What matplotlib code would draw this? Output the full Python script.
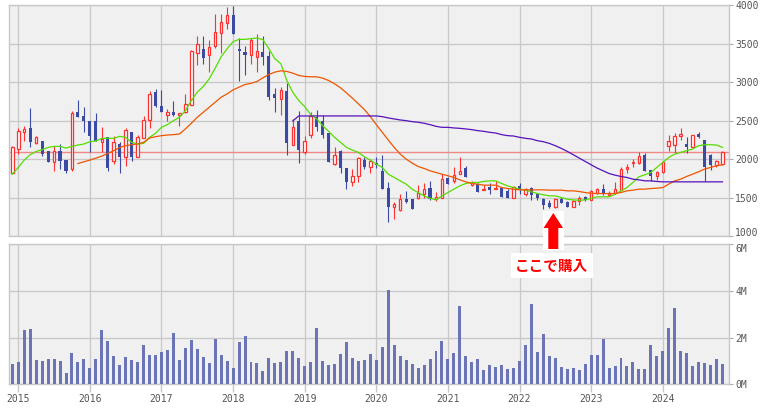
import numpy as np
import matplotlib
matplotlib.use('Agg')
import matplotlib.pyplot as plt
from matplotlib.patches import Rectangle, FancyArrow

# monthly candles, Dec 2014 .. Nov 2024
opens = [1813, 2126, 2352, 2400, 2204, 2239, 2100, 1957, 2100, 1991, 1870, 2618,
         2566, 2500, 2500, 2218, 2283, 1970, 2196, 2022, 2357, 2022, 2274, 2513,
         2879, 2692, 2574, 2613, 2570, 2609, 2705, 3379, 3436, 3353, 3475, 3645,
         3775, 3875, 3436, 3392, 3349, 3331, 3392, 3336, 2848, 2783, 2892, 2183,
         2500, 2096, 2313, 2544, 2492, 2339, 1935, 2109, 1883, 1696, 1783, 1987,
         1891, 1943, 1848, 1622, 1383, 1339, 1478, 1478, 1491, 1543, 1622, 1478,
         1500, 1748, 1717, 1804, 1878, 1661, 1674, 1600, 1639, 1609, 1630, 1587,
         1500, 1652, 1552, 1622, 1543, 1487, 1435, 1383, 1478, 1443, 1383, 1456,
         1509, 1469, 1565, 1609, 1535, 1565, 1596, 1870, 1952, 1948, 2052, 1857,
         1783, 1826, 2174, 2187, 2305, 2196, 2161, 2326, 2248, 2052, 1926, 1935]
closes = [2161, 2370, 2396, 2218, 2283, 2065, 1957, 2100, 1970, 1848, 2605, 2544,
          2500, 2305, 2239, 2261, 1878, 2218, 2022, 2383, 2022, 2283, 2509, 2848,
          2696, 2609, 2618, 2579, 2605, 2718, 3401, 3501, 3318, 3462, 3658, 3788,
          3875, 3631, 3405, 3349, 3544, 3401, 3331, 2813, 2792, 2900, 2204, 2422,
          2122, 2239, 2566, 2422, 2313, 1957, 2052, 1878, 1704, 1783, 2013, 1891,
          1978, 1926, 1617, 1383, 1422, 1478, 1443, 1356, 1556, 1609, 1478, 1509,
          1739, 1674, 1796, 1848, 1761, 1683, 1574, 1617, 1600, 1630, 1509, 1500,
          1639, 1609, 1609, 1530, 1500, 1404, 1383, 1478, 1435, 1383, 1456, 1491,
          1465, 1587, 1609, 1543, 1565, 1617, 1870, 1891, 1965, 2043, 1848, 1783,
          1835, 1965, 2239, 2305, 2326, 2152, 2313, 2283, 1900, 1922, 1970, 2087]
highs = [2174, 2400, 2435, 2661, 2305, 2239, 2109, 2165, 2196, 1991, 2631, 2774,
         2683, 2500, 2605, 2413, 2283, 2305, 2218, 2400, 2357, 2313, 2566, 2892,
         2914, 2905, 2653, 2761, 2605, 2848, 3414, 3605, 3597, 3544, 3884, 3884,
         3984, 3997, 3581, 3471, 3579, 3623, 3597, 3401, 2922, 2944, 2987, 2522,
         2631, 2305, 2609, 2644, 2574, 2339, 2161, 2117, 1883, 1870, 2030, 2030,
         2000, 2022, 2057, 1704, 1443, 1552, 1587, 1478, 1661, 1683, 1717, 1574,
         1804, 1761, 1891, 2030, 1904, 1717, 1687, 1661, 1683, 1717, 1630, 1617,
         1652, 1683, 1630, 1639, 1552, 1500, 1465, 1500, 1509, 1456, 1465, 1522,
         1522, 1600, 1622, 1674, 1587, 1704, 1891, 1935, 2000, 2087, 2074, 1857,
         1848, 1978, 2318, 2339, 2400, 2283, 2313, 2357, 2248, 2065, 1987, 2109]
lows = [1804, 2065, 2239, 2152, 2196, 2043, 1957, 1848, 1870, 1813, 1848, 2544,
        2348, 2087, 2231, 2087, 1839, 1935, 1813, 1913, 1978, 2022, 2274, 2405,
        2674, 2609, 2500, 2566, 2426, 2596, 2705, 3227, 3231, 3131, 3449, 3379,
        3688, 3631, 3014, 3092, 3231, 3131, 3227, 2770, 2618, 2574, 2057, 2183,
        1943, 2065, 2270, 2370, 2270, 1957, 1922, 1817, 1609, 1644, 1696, 1870,
        1813, 1878, 1617, 1187, 1226, 1326, 1435, 1356, 1478, 1500, 1469, 1456,
        1500, 1674, 1683, 1804, 1761, 1652, 1574, 1600, 1543, 1609, 1509, 1500,
        1500, 1552, 1522, 1465, 1465, 1348, 1361, 1370, 1435, 1383, 1383, 1400,
        1456, 1465, 1552, 1530, 1522, 1552, 1596, 1813, 1891, 1935, 1839, 1717,
        1730, 1813, 2100, 2074, 2248, 2074, 2152, 2270, 1717, 1857, 1891, 1926]
# volume in millions of shares
volumes = [0.87, 0.95, 2.32, 2.36, 1.04, 1.00, 1.08, 1.08, 1.00, 0.48, 1.34, 0.95,
           1.08, 0.70, 1.08, 2.32, 1.85, 1.21, 0.83, 1.17, 1.04, 0.95, 1.68, 1.25,
           1.25, 1.38, 1.47, 2.19, 1.04, 1.55, 1.89, 1.51, 1.17, 0.91, 1.93, 1.25,
           1.00, 0.70, 1.81, 2.06, 0.95, 0.91, 0.57, 1.12, 0.91, 0.95, 1.42, 1.42,
           1.12, 0.78, 0.95, 2.40, 1.00, 0.83, 0.87, 1.29, 1.81, 1.12, 1.00, 1.04,
           1.29, 1.04, 1.59, 4.03, 1.68, 1.21, 1.04, 0.87, 0.70, 0.83, 1.08, 1.42,
           1.85, 1.08, 1.34, 3.34, 1.21, 0.95, 1.08, 0.61, 0.83, 0.74, 0.83, 0.65,
           0.70, 1.00, 1.68, 3.43, 1.38, 2.15, 1.21, 1.12, 0.74, 0.65, 0.70, 0.61,
           0.87, 1.25, 1.25, 1.93, 0.70, 0.78, 1.12, 0.78, 0.95, 0.65, 0.65, 1.68,
           1.21, 1.42, 2.40, 3.26, 1.42, 1.34, 0.78, 0.95, 0.91, 0.83, 1.08, 0.87]

nan = np.nan
ma_short = [1804, 1891, 1987, 2057, 2100, 2122, 2152, 2165, 2165, 2144, 2165, 2183,
            2196, 2226, 2235, 2270, 2270, 2270, 2296, 2283, 2218, 2196, 2204, 2283,
            2335, 2413, 2448, 2500, 2544, 2631, 2761, 2870, 2944, 3044, 3183, 3331,
            3436, 3527, 3557, 3557, 3566, 3575, 3553, 3436, 3305, 3240, 3022, 2870,
            2761, 2683, 2579, 2522, 2435, 2361, 2283, 2218, 2152, 2117, 2087, 2030,
            1987, 1935, 1891, 1804, 1761, 1717, 1674, 1609, 1565, 1522, 1491, 1469,
            1522, 1565, 1609, 1652, 1683, 1696, 1696, 1709, 1717, 1717, 1683, 1652,
            1630, 1609, 1596, 1574, 1552, 1535, 1522, 1522, 1500, 1478, 1469, 1465,
            1469, 1491, 1509, 1509, 1509, 1543, 1587, 1630, 1696, 1770, 1796, 1826,
            1891, 1957, 2022, 2065, 2087, 2109, 2131, 2174, 2187, 2187, 2183, 2152]
ma_mid = [nan] * 11 + [
            1943, 1965, 1987, 2013, 2039, 2074, 2109, 2152, 2174, 2187, 2196, 2218,
            2274, 2291, 2305, 2313, 2318, 2326, 2392, 2466, 2544, 2609, 2674, 2740,
            2805, 2848, 2900, 2935, 2970, 2985, 3009, 3057, 3101, 3131, 3148, 3140,
            3118, 3088, 3075, 3070, 3070, 3053, 3022, 2979, 2927, 2861, 2792, 2718,
            2644, 2552, 2448, 2348, 2248, 2152, 2065, 2000, 1948, 1904, 1878, 1848,
            1826, 1804, 1783, 1761, 1730, 1704, 1683, 1674, 1661, 1661, 1661, 1630,
            1617, 1609, 1600, 1600, 1600, 1600, 1600, 1596, 1596, 1596, 1587, 1587,
            1578, 1565, 1556, 1552, 1552, 1552, 1552, 1565, 1587, 1596, 1609, 1609,
            1617, 1622, 1630, 1674, 1717, 1739, 1774, 1804, 1835, 1870, 1891, 1913,
            1926]
ma_long = [nan] * 47 + [
            2496, 2561, 2561, 2561, 2561, 2561, 2561, 2561, 2561, 2561, 2561, 2561,
            2561, 2561, 2561, 2552, 2535, 2522, 2509, 2500, 2487, 2479, 2466, 2448,
            2426, 2413, 2413, 2405, 2400, 2392, 2383, 2370, 2361, 2348, 2339, 2318,
            2305, 2300, 2283, 2270, 2261, 2239, 2226, 2204, 2174, 2139, 2100, 2057,
            2013, 1970, 1926, 1883, 1848, 1813, 1791, 1774, 1761, 1739, 1730, 1717,
            1717, 1709, 1704, 1704, 1704, 1704, 1704, 1704, 1704, 1704, 1704, 1704,
            1704]

year_labels = ['2015', '2016', '2017', '2018', '2019', '2020', '2021', '2022', '2023', '2024']
year_pos = [1 + 12 * k for k in range(len(year_labels))]   # January of each year
price_ticks = [1000, 1500, 2000, 2500, 3000, 3500, 4000]
vol_ticks = [0, 2, 4, 6]

RED = '#ff3030'
BLUE = '#3b4aa3'
VOLC = '#6b74b4'
GRID = '#c8c8c8'
BG = '#f0f0f0'
TXT = '#555555'
MONO = 'DejaVu Sans Mono'

o = np.array(opens, float)
c = np.array(closes, float)
h = np.array(highs, float)
l = np.array(lows, float)
x = np.arange(len(c))
up = c >= o

fig = plt.figure(figsize=(7.64, 4.08), dpi=100)
fig.patch.set_facecolor('white')
ax = fig.add_axes([0.0122, 0.4216, 0.9420, 0.5654])
axv = fig.add_axes([0.0122, 0.0581, 0.9420, 0.3431])

for a in (ax, axv):
    a.set_facecolor(BG)
    a.set_xlim(-0.5, 120.1)
    for s in a.spines.values():
        s.set_color(GRID)
        s.set_linewidth(1)
    a.yaxis.tick_right()
    a.tick_params(axis='y', direction='out', length=3, width=0.8, color='#aaaaaa',
                  pad=1.5, labelsize=7, labelcolor=TXT)
    a.set_xticks(year_pos)
    a.grid(True, color=GRID, lw=0.9, zorder=0)
    a.set_axisbelow(True)

# price panel
ax.set_ylim(1000, 4000)
ax.set_yticks(price_ticks)
ax.set_yticklabels([str(v) for v in price_ticks], family=MONO)
ax.tick_params(axis='x', length=0, labelbottom=False)

ax.vlines(x, l, h, colors=np.where(up, RED, BLUE), lw=0.8, zorder=3)
ax.bar(x[up], (c - o)[up], bottom=o[up], width=0.42, facecolor='white',
       edgecolor=RED, lw=0.9, zorder=4)
ax.bar(x[~up], (o - c)[~up], bottom=c[~up], width=0.52, color=BLUE, lw=0, zorder=4)

ax.plot(x, ma_short, color='#55dd00', lw=0.9, zorder=5)
ax.plot(x, ma_mid, color='#ee5500', lw=0.9, zorder=5)
ax.plot(x, ma_long, color='#5511bb', lw=0.9, zorder=5)
ax.axhline(closes[-1], color='#f08888', lw=1, zorder=2)

# volume panel
axv.set_ylim(0, 6)
axv.set_yticks(vol_ticks)
axv.set_yticklabels(['%dM' % v for v in vol_ticks], family=MONO)
axv.bar(x, volumes, width=0.5, color=VOLC, zorder=3)
axv.set_xticklabels(year_labels, family=MONO)
axv.tick_params(axis='x', direction='out', length=6, width=1, color=GRID,
                pad=1, labelsize=7, labelcolor=TXT)

# keep the two labels at the panel seam apart
ax.get_yticklabels()[0].set_verticalalignment('baseline')
axv.get_yticklabels()[-1].set_verticalalignment('top')

# buy marker, drawn on a pixel overlay
ov = fig.add_axes([0, 0, 1, 1], zorder=10)
ov.set_xlim(0, 764)
ov.set_ylim(408, 0)
ov.axis('off')
ov.patch.set_alpha(0)
ov.add_patch(Rectangle((542.7, 211), 21.3, 39, facecolor='white', edgecolor='none'))
ov.add_patch(FancyArrow(553.3, 249, 0, -36, width=10, head_width=19.5, head_length=15,
                        length_includes_head=True, color='#ff0000', lw=0))
ov.text(551.8, 265.5, 'ここで購入', ha='center', va='center', color='#ff0000',
        fontsize=10.5, fontweight='bold', family=['Noto Sans CJK JP', 'DejaVu Sans'],
        bbox=dict(facecolor='white', edgecolor='none', boxstyle='square,pad=0.3'))

fig.savefig('out.png', dpi=100)
